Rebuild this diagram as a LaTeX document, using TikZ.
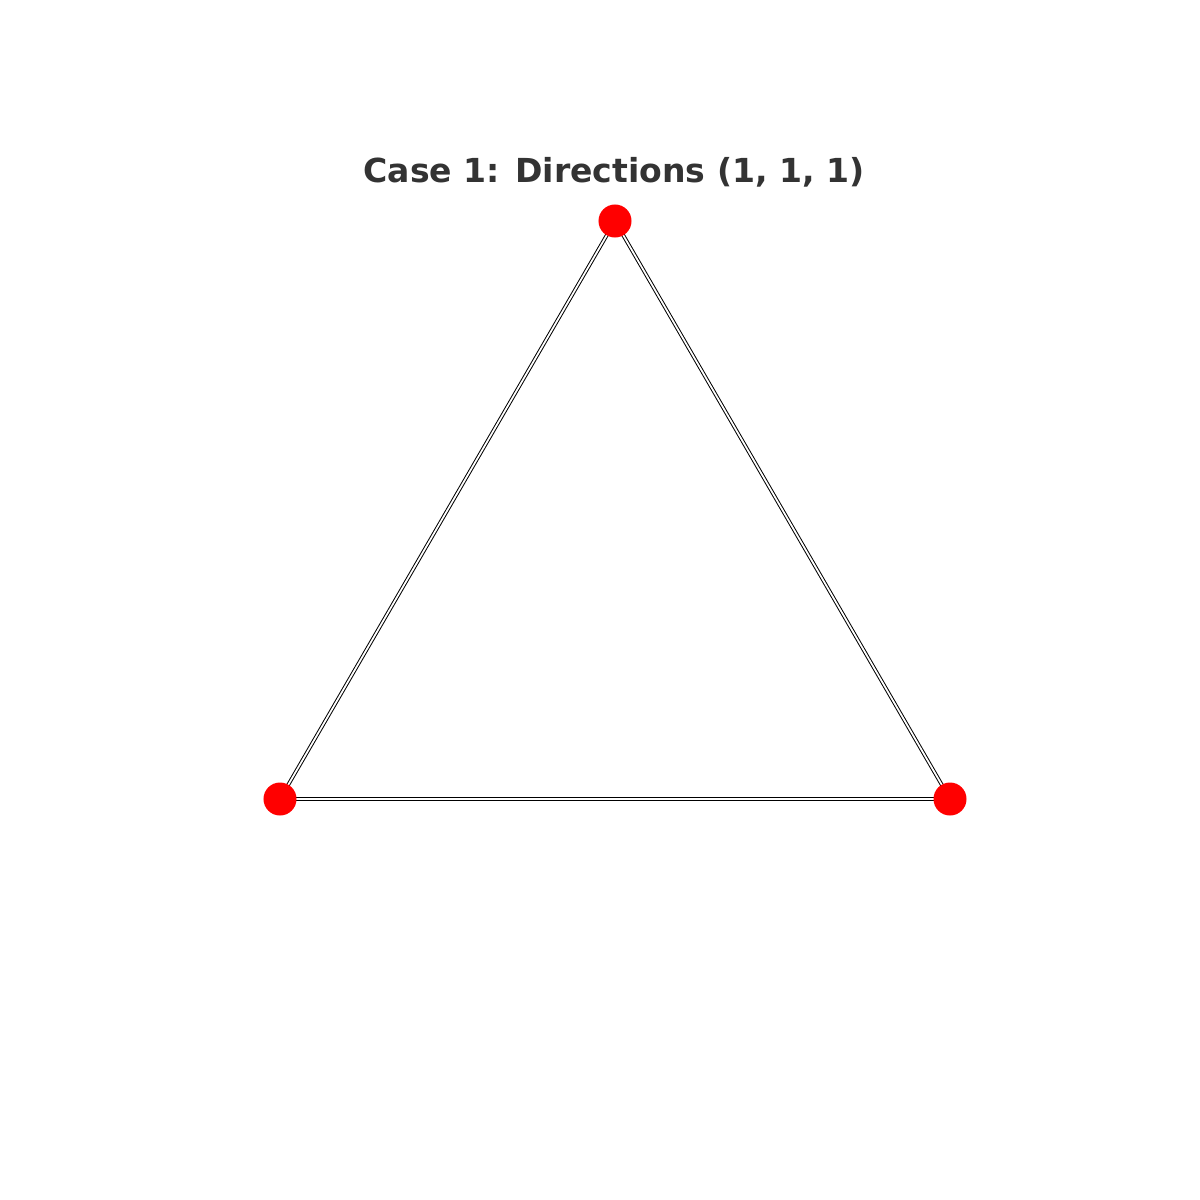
\documentclass[tikz,border=0pt]{standalone}
\usepackage{fontspec}
\setmainfont{DejaVu Sans}
\definecolor{titlegray}{HTML}{333333}
\begin{document}
\begin{tikzpicture}[x=0.01cm,y=-0.01cm,
  vertex/.style={circle,fill=red,inner sep=0pt,minimum size=0.33cm},
  edge/.style={draw=black,line width=0.28pt,double=white,double distance=0.5pt}]
\useasboundingbox[fill=white] (0,0) rectangle (1200,1200);
\node[font=\bfseries\fontsize{9.4}{11}\selectfont,text=titlegray] (title) at (614,172) {Case 1: Directions (1, 1, 1)};
\coordinate (a) at (615,221);
\coordinate (b) at (280,799);
\coordinate (c) at (950,799);
\draw[edge] (a) -- (b);
\draw[edge] (b) -- (c);
\draw[edge] (c) -- (a);
\node[vertex] (na) at (a) {};
\node[vertex] (nb) at (b) {};
\node[vertex] (nc) at (c) {};
\end{tikzpicture}
\end{document}
